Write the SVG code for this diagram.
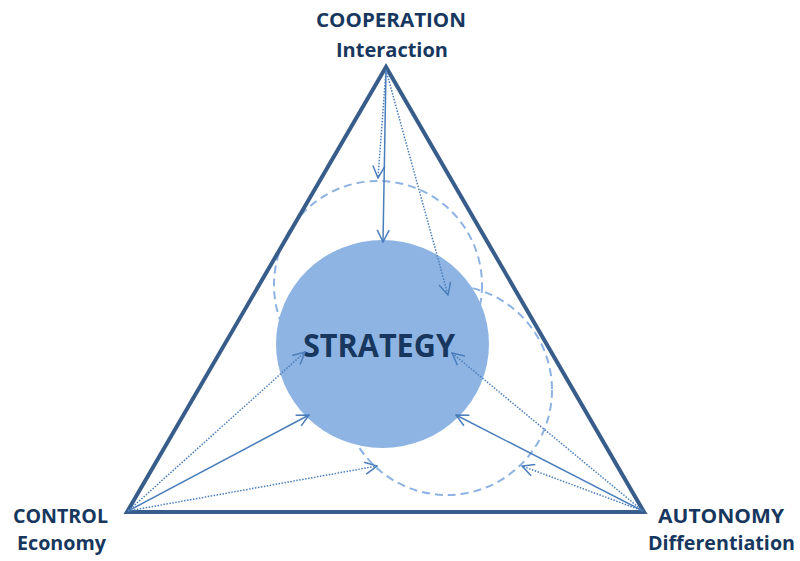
<svg xmlns="http://www.w3.org/2000/svg" width="800" height="561" viewBox="0 0 800 561">
  <style>
    .label { font-family: "Open Sans", "Liberation Sans", sans-serif; font-weight: bold; fill: #17375E; text-anchor: middle; }
    .side { stroke: #385D8A; stroke-width: 4; fill: none; stroke-linejoin: miter; }
    .orbit { fill: none; stroke: #8DB3E2; stroke-width: 2; stroke-dasharray: 8 5; }
    .arrow { stroke: #4A7EBB; stroke-width: 1.5; fill: none; marker-end: url(#open); }
    .dotted { stroke-dasharray: 1.5 1.5; }
  </style>
  <defs>
    <marker id="open" viewBox="0 0 14 14" refX="13" refY="7" markerWidth="14" markerHeight="14" markerUnits="userSpaceOnUse" orient="auto">
      <path d="M1,1 L13,7 L1,13" fill="none" stroke="#4A7EBB" stroke-width="1.5"/>
    </marker>
  </defs>
  <rect width="800" height="561" fill="#FFFFFF"/>

  <!-- dashed orbits behind the core -->
  <g id="orbits">
    <circle class="orbit" cx="378" cy="285" r="104"/>
    <circle class="orbit" cx="447" cy="390" r="105"/>
  </g>

  <!-- triangle frame -->
  <g id="frame">
    <polygon class="side" points="386,67 127,512 644,512"/>
  </g>

  <!-- central node -->
  <g id="strategy">
    <ellipse cx="382.5" cy="344" rx="106.5" ry="104" fill="#8EB4E3"/>
    <text class="label" x="379" y="357" font-size="33" textLength="152" lengthAdjust="spacingAndGlyphs">STRATEGY</text>
  </g>

  <!-- connectors from the three corners -->
  <g id="connectors">
    <line class="arrow dotted" x1="386" y1="70" x2="378" y2="178"/>
    <line class="arrow" x1="386" y1="70" x2="383" y2="242"/>
    <line class="arrow dotted" x1="386" y1="70" x2="448" y2="295"/>

    <line class="arrow dotted" x1="128" y1="511" x2="305" y2="352"/>
    <line class="arrow" x1="128" y1="511" x2="309" y2="415"/>
    <line class="arrow dotted" x1="128" y1="511" x2="377" y2="466"/>

    <line class="arrow dotted" x1="643" y1="511" x2="452" y2="353"/>
    <line class="arrow" x1="643" y1="511" x2="456" y2="415"/>
    <line class="arrow dotted" x1="643" y1="511" x2="522" y2="466"/>
  </g>

  <g id="cooperation">
    <text class="label" x="391" y="27" font-size="20" textLength="150" lengthAdjust="spacingAndGlyphs">COOPERATION</text>
    <text class="label" x="392" y="57" font-size="20" textLength="112" lengthAdjust="spacingAndGlyphs">Interaction</text>
  </g>
  <g id="control">
    <text class="label" x="60.5" y="523" font-size="20" textLength="95" lengthAdjust="spacingAndGlyphs">CONTROL</text>
    <text class="label" x="61.5" y="550" font-size="20" textLength="89" lengthAdjust="spacingAndGlyphs">Economy</text>
  </g>
  <g id="autonomy">
    <text class="label" x="721" y="523" font-size="20" textLength="126" lengthAdjust="spacingAndGlyphs">AUTONOMY</text>
    <text class="label" x="721.5" y="550" font-size="20" textLength="147" lengthAdjust="spacingAndGlyphs">Differentiation</text>
  </g>
</svg>
